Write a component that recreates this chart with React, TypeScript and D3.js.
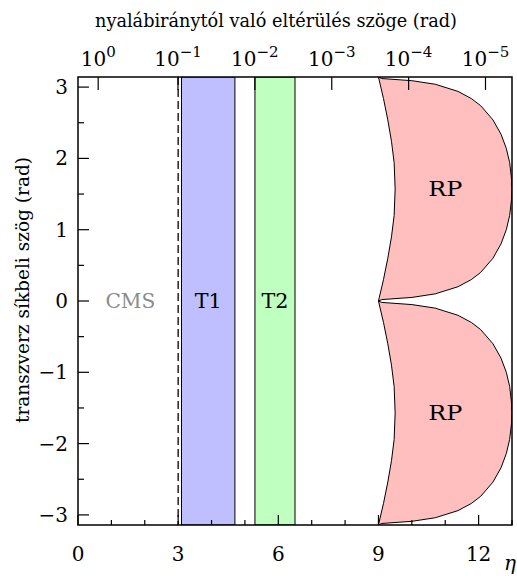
import { useEffect, useRef } from "react";
import * as d3 from "d3";

// detector bands in eta
const bandNames = ["T1", "T2"];
const bandLo = [3.1, 5.3];
const bandHi = [4.7, 6.5];
const bandColors = ["#bfbfff", "#bfffbf"];

const cmsEdge = 3.0;

// upper RP lobe (phi in rad, eta)
const rpRightPhi = [0, 0.02, 0.05, 0.1, 0.2, 0.3, 0.4, 0.6, 0.8, 1.0, 1.2, 1.4, 1.571, 1.74, 1.94, 2.14, 2.34, 2.54, 2.74, 2.84, 2.94, 3.04, 3.09, 3.12, 3.1416];
const rpRightEta = [9.0, 9.1, 10.0, 10.7, 11.38, 11.78, 12.06, 12.43, 12.67, 12.83, 12.93, 12.98, 13.0, 12.98, 12.93, 12.83, 12.67, 12.43, 12.06, 11.78, 11.38, 10.7, 10.0, 9.1, 9.0];
const rpLeftPhi = [3.1416, 2.84, 2.54, 2.24, 1.94, 1.571, 1.2, 0.9, 0.6, 0.3, 0];
const rpLeftEta = [9.0, 9.15, 9.28, 9.39, 9.47, 9.5, 9.47, 9.39, 9.28, 9.15, 9.0];

const xMajor = [0, 3, 6, 9, 12];
const xMinor = [1, 2, 4, 5, 7, 8, 10, 11, 13];
const yMajor = [-3, -2, -1, 0, 1, 2, 3];
const yMinor = [-2.5, -1.5, -0.5, 0.5, 1.5, 2.5];
const thetaExp = [0, -1, -2, -3, -4, -5];

const W = 517;
const H = 576;
const margin = { top: 77, right: 5, bottom: 51, left: 78 };
const font = "DejaVu Serif, Liberation Serif, serif";

export default function App() {
  const ref = useRef<SVGSVGElement>(null);

  useEffect(() => {
    const svg = d3.select(ref.current);
    svg.selectAll("*").remove();
    const width = W - margin.left - margin.right;
    const height = H - margin.top - margin.bottom;

    const x = d3.scaleLinear().domain([0, 13]).range([0, width]);
    const y = d3.scaleLinear().domain([-Math.PI, Math.PI]).range([height, 0]);

    svg.append("defs").append("clipPath").attr("id", "plotclip")
      .append("rect").attr("width", width).attr("height", height);

    const g = svg.append("g").attr("transform", `translate(${margin.left},${margin.top})`);
    const plot = g.append("g").attr("clip-path", "url(#plotclip)");

    const label = (px: number, py: number, s: string, size: number, wide: number) =>
      g.append("text")
        .attr("x", px).attr("y", py)
        .attr("dy", "0.35em")
        .attr("text-anchor", "middle")
        .style("font-family", font)
        .attr("font-size", size)
        .attr("textLength", wide)
        .attr("lengthAdjust", "spacingAndGlyphs")
        .text(s);

    // bands
    bandNames.forEach((name, i) => {
      plot.append("rect")
        .attr("x", x(bandLo[i]))
        .attr("y", 0)
        .attr("width", x(bandHi[i]) - x(bandLo[i]))
        .attr("height", height)
        .attr("fill", bandColors[i])
        .attr("stroke", "#000")
        .attr("stroke-width", 1);
      label(x((bandLo[i] + bandHi[i]) / 2), y(0), name, 20, 27);
    });

    // CMS edge
    plot.append("line")
      .attr("x1", x(cmsEdge)).attr("x2", x(cmsEdge))
      .attr("y1", 0).attr("y2", height)
      .attr("stroke", "#000")
      .attr("stroke-width", 1.3)
      .attr("stroke-dasharray", "8,4");
    label(x(1.57), y(0), "CMS", 20, 50).attr("fill", "#8c8c8c");

    // RP lobes
    const lobe: [number, number][] = [
      ...rpRightPhi.map((p, i) => [rpRightEta[i], p] as [number, number]),
      ...rpLeftPhi.map((p, i) => [rpLeftEta[i], p] as [number, number]),
    ];
    const line = d3.line<[number, number]>()
      .x(d => x(d[0]))
      .curve(d3.curveLinearClosed);
    [1, -1].forEach(sign => {
      plot.append("path")
        .attr("d", line.y(d => y(sign * d[1]))(lobe))
        .attr("fill", "#ffbfbf")
        .attr("stroke", "#000")
        .attr("stroke-width", 1);
      label(x(11), y(sign * Math.PI / 2), "RP", 20, 34);
    });

    // ticks
    const tick = (x1: number, y1: number, x2: number, y2: number) =>
      g.append("line").attr("x1", x1).attr("y1", y1).attr("x2", x2).attr("y2", y2)
        .attr("stroke", "#000").attr("stroke-width", 1.2);

    xMajor.forEach(v => {
      tick(x(v), height, x(v), height - 10);
      g.append("text")
        .attr("x", x(v)).attr("y", height + 36)
        .attr("text-anchor", "middle")
        .style("font-family", font).attr("font-size", 20)
        .text(String(v));
    });
    xMinor.forEach(v => tick(x(v), height, x(v), height - 5));

    yMajor.forEach(v => {
      tick(0, y(v), 11, y(v));
      g.append("text")
        .attr("x", -10).attr("y", y(v))
        .attr("dy", "0.35em")
        .attr("text-anchor", "end")
        .style("font-family", font).attr("font-size", 20)
        .text(v < 0 ? "\u2212" + Math.abs(v) : String(v));
    });
    yMinor.forEach(v => tick(0, y(v), 6, y(v)));

    // top axis: polar angle theta, eta = -ln tan(theta/2)
    thetaExp.forEach(e => {
      const th = Math.pow(10, e);
      const px = x(-Math.log(Math.tan(th / 2)));
      tick(px, 0, px, 13);
      const t = g.append("text")
        .attr("x", px).attr("y", -11)
        .attr("text-anchor", "middle")
        .style("font-family", font).attr("font-size", 20);
      t.append("tspan").text("10");
      t.append("tspan").attr("dy", -9).attr("font-size", 15)
        .text(e === 0 ? "0" : "\u2212" + Math.abs(e));
    });

    // frame
    g.append("rect")
      .attr("width", width).attr("height", height)
      .attr("fill", "none").attr("stroke", "#000").attr("stroke-width", 1.5);

    // axis titles
    svg.append("text")
      .attr("x", 95).attr("y", 27)
      .style("font-family", font).attr("font-size", 19)
      .attr("textLength", 362).attr("lengthAdjust", "spacingAndGlyphs")
      .text("nyalábiránytól való eltérülés szöge (rad)");

    svg.append("text")
      .attr("transform", `translate(29,290) rotate(-90)`)
      .attr("text-anchor", "middle")
      .style("font-family", font).attr("font-size", 18)
      .attr("textLength", 266).attr("lengthAdjust", "spacingAndGlyphs")
      .text("transzverz síkbeli szög (rad)");

    svg.append("text")
      .attr("x", 510).attr("y", 570)
      .attr("text-anchor", "middle")
      .style("font-family", font).attr("font-style", "italic").attr("font-size", 20)
      .text("η");
  }, []);

  return (
    <svg ref={ref} width={W} height={H}
      style={{ position: "absolute", left: 0, top: 0, background: "#fff" }} />
  );
}
